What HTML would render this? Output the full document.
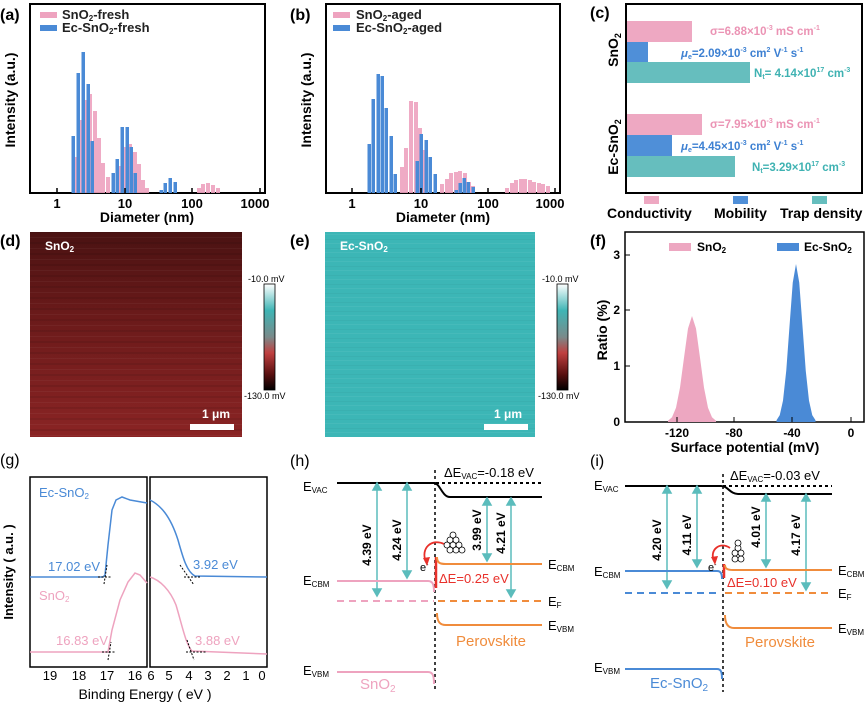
<!DOCTYPE html>
<html><head><meta charset="utf-8"><style>
html,body{margin:0;padding:0;background:#fff}
svg{display:block;font-family:"Liberation Sans",Arial,sans-serif}
.b{font-weight:bold}
</style></head><body>
<svg width="865" height="705" viewBox="0 0 865 705" xmlns="http://www.w3.org/2000/svg">
<defs>
<linearGradient id="cb" x1="0" y1="0" x2="0" y2="1">
<stop offset="0" stop-color="#ffffff"/><stop offset="0.25" stop-color="#3fb5b5"/><stop offset="0.5" stop-color="#7a8a8a"/><stop offset="0.65" stop-color="#c04040"/><stop offset="0.85" stop-color="#5a1010"/><stop offset="1" stop-color="#000"/>
</linearGradient>
<linearGradient id="dimg" x1="0" y1="0" x2="0" y2="1">
<stop offset="0" stop-color="#4a1212"/><stop offset="0.4" stop-color="#6a1a1a"/><stop offset="1" stop-color="#8a2424"/>
</linearGradient>
<pattern id="stripes" width="4" height="11" patternUnits="userSpaceOnUse">
<rect width="4" height="2" fill="#000" opacity="0.08"/><rect y="6" width="4" height="1" fill="#fff" opacity="0.04"/>
</pattern>
<pattern id="stripes2" width="5" height="9" patternUnits="userSpaceOnUse">
<rect width="5" height="1" fill="#fff" opacity="0.05"/><rect y="5" width="5" height="1" fill="#000" opacity="0.03"/>
</pattern>
</defs>

<!-- (a) -->
<text x="0" y="20" class="b" font-size="16">(a)</text>
<rect x="30" y="4" width="235" height="189" fill="none" stroke="#000" stroke-width="2"/>
<g fill="#eea3bf" opacity="0.9">
<rect x="74" y="157" width="4" height="36"/><rect x="79" y="120" width="4" height="73"/><rect x="84" y="100" width="4" height="93"/><rect x="88" y="94" width="4" height="99"/><rect x="93" y="111" width="4" height="82"/><rect x="97" y="138" width="4" height="55"/><rect x="101" y="163" width="4" height="30"/><rect x="106" y="177" width="4" height="16"/><rect x="117" y="166" width="4" height="27"/><rect x="124" y="147" width="4" height="46"/><rect x="128" y="144" width="4" height="49"/><rect x="133" y="152" width="4" height="41"/><rect x="137" y="164" width="4" height="29"/><rect x="141" y="180" width="4" height="13"/><rect x="145" y="188" width="4" height="5"/>
<rect x="197" y="188" width="4" height="5"/><rect x="201" y="184" width="4" height="9"/><rect x="206" y="183" width="4" height="10"/><rect x="211" y="185" width="4" height="8"/><rect x="216" y="188" width="4" height="5"/>
</g>
<g fill="#4a8ad6">
<rect x="71.5" y="136" width="3.5" height="57"/><rect x="76.5" y="73" width="3.5" height="120"/><rect x="81.5" y="52" width="3.5" height="141"/><rect x="86.5" y="84" width="3.5" height="109"/><rect x="90.5" y="141" width="3.5" height="52"/><rect x="111.5" y="173" width="3.5" height="20"/><rect x="115.5" y="159" width="3.5" height="34"/><rect x="120.5" y="127" width="3.5" height="66"/><rect x="125.5" y="127" width="3.5" height="66"/><rect x="129.5" y="147" width="3.5" height="46"/><rect x="133.5" y="173" width="3.5" height="20"/><rect x="159.5" y="190" width="3.5" height="3"/><rect x="163.5" y="183" width="3.5" height="10"/><rect x="168.5" y="178" width="3.5" height="15"/><rect x="173.5" y="182" width="3.5" height="11"/>
</g>
<g stroke="#000" stroke-width="1.5"><line x1="57" y1="193" x2="57" y2="188"/><line x1="125" y1="193" x2="125" y2="188"/><line x1="192" y1="193" x2="192" y2="188"/><line x1="260" y1="193" x2="260" y2="188"/></g>
<g font-size="13" class="b" text-anchor="middle"><text x="57" y="208">1</text><text x="125" y="208">10</text><text x="192" y="208">100</text><text x="255" y="208">1000</text></g>
<text x="147" y="222" font-size="14" class="b" text-anchor="middle">Diameter (nm)</text>
<text transform="translate(15,100) rotate(-90)" font-size="14" class="b" text-anchor="middle">Intensity (a.u.)</text>
<rect x="40" y="12" width="17" height="6" fill="#eea3bf"/><text x="62" y="19" font-size="13" class="b" fill="#222">SnO<tspan font-size="8" dy="2">2</tspan><tspan dy="-2">-fresh</tspan></text>
<rect x="40" y="25" width="17" height="6" fill="#4a8ad6"/><text x="62" y="32" font-size="13" class="b" fill="#222">Ec-SnO<tspan font-size="8" dy="2">2</tspan><tspan dy="-2">-fresh</tspan></text>

<!-- (b) -->
<text x="290" y="20" class="b" font-size="16">(b)</text>
<rect x="326" y="4" width="234" height="189" fill="none" stroke="#000" stroke-width="2"/>
<g fill="#eea3bf" opacity="0.9">
<rect x="400" y="167" width="4" height="26"/><rect x="404" y="148" width="4" height="45"/><rect x="409" y="101" width="4" height="92"/><rect x="414" y="102" width="4" height="91"/><rect x="418" y="128" width="4" height="65"/><rect x="423" y="150" width="4" height="43"/>
<rect x="440" y="184" width="4" height="9"/><rect x="445" y="179" width="4" height="14"/><rect x="449" y="173" width="4" height="20"/><rect x="454" y="172" width="4" height="21"/><rect x="458" y="171" width="4" height="22"/><rect x="463" y="173" width="4" height="20"/><rect x="467" y="182" width="4" height="11"/><rect x="471" y="186" width="4" height="7"/>
<rect x="505" y="188" width="4" height="5"/><rect x="510" y="183" width="4" height="10"/><rect x="514" y="180" width="4" height="13"/><rect x="519" y="179" width="4" height="14"/><rect x="523" y="179" width="4" height="14"/><rect x="528" y="180" width="4" height="13"/><rect x="532" y="182" width="4" height="11"/><rect x="537" y="183" width="4" height="10"/><rect x="541" y="184" width="4" height="9"/><rect x="546" y="186" width="4" height="7"/>
</g>
<g fill="#4a8ad6">
<rect x="367.5" y="144" width="3.5" height="49"/><rect x="371.5" y="99" width="3.5" height="94"/><rect x="376.5" y="74" width="3.5" height="119"/><rect x="380.5" y="76" width="3.5" height="117"/><rect x="384.5" y="108" width="3.5" height="85"/><rect x="389.5" y="136" width="3.5" height="57"/><rect x="393.5" y="174" width="3.5" height="19"/><rect x="415.5" y="161" width="3.5" height="32"/><rect x="419.5" y="134" width="3.5" height="59"/><rect x="424.5" y="140" width="3.5" height="53"/><rect x="428.5" y="157" width="3.5" height="36"/><rect x="433.5" y="174" width="3.5" height="19"/><rect x="454.5" y="190" width="3.5" height="3"/><rect x="458.5" y="183" width="3.5" height="10"/><rect x="462.5" y="178" width="3.5" height="15"/><rect x="466.5" y="182" width="3.5" height="11"/><rect x="471.5" y="187" width="3.5" height="6"/>
</g>
<g stroke="#000" stroke-width="1.5"><line x1="352" y1="193" x2="352" y2="188"/><line x1="421" y1="193" x2="421" y2="188"/><line x1="488" y1="193" x2="488" y2="188"/><line x1="555" y1="193" x2="555" y2="188"/></g>
<g font-size="13" class="b" text-anchor="middle"><text x="352" y="208">1</text><text x="421" y="208">10</text><text x="488" y="208">100</text><text x="550" y="208">1000</text></g>
<text x="443" y="222" font-size="14" class="b" text-anchor="middle">Diameter (nm)</text>
<text transform="translate(311,100) rotate(-90)" font-size="14" class="b" text-anchor="middle">Intensity (a.u.)</text>
<rect x="333" y="12" width="17" height="6" fill="#eea3bf"/><text x="356" y="19" font-size="13" class="b" fill="#222">SnO<tspan font-size="8" dy="2">2</tspan><tspan dy="-2">-aged</tspan></text>
<rect x="333" y="25" width="17" height="6" fill="#4a8ad6"/><text x="356" y="32" font-size="13" class="b" fill="#222">Ec-SnO<tspan font-size="8" dy="2">2</tspan><tspan dy="-2">-aged</tspan></text>

<!-- (c) -->
<text x="590" y="18" class="b" font-size="16">(c)</text>
<rect x="626" y="4" width="236" height="189" fill="none" stroke="#000" stroke-width="2"/>
<rect x="627" y="21" width="65" height="21" fill="#eea8c2"/>
<rect x="627" y="42" width="21" height="20" fill="#4f8fd8"/>
<rect x="627" y="62" width="123" height="21" fill="#66bebe"/>
<rect x="627" y="114" width="75" height="21" fill="#eea8c2"/>
<rect x="627" y="135" width="45" height="21" fill="#4f8fd8"/>
<rect x="627" y="156" width="108" height="21" fill="#66bebe"/>
<g font-size="11.5" class="b">
<text x="710" y="35" fill="#eb93b4">σ=6.88×10<tspan font-size="7" dy="-5">-3</tspan><tspan dy="5"> mS cm</tspan><tspan font-size="7" dy="-5">-1</tspan></text>
<text x="681" y="57" fill="#3d80d2"><tspan font-style="italic">μ</tspan><tspan font-size="7" dy="2">e</tspan><tspan dy="-2">=2.09×10</tspan><tspan font-size="7" dy="-5">-3</tspan><tspan dy="5"> cm</tspan><tspan font-size="7" dy="-5">2</tspan><tspan dy="5"> V</tspan><tspan font-size="7" dy="-5">-1</tspan><tspan dy="5"> s</tspan><tspan font-size="7" dy="-5">-1</tspan></text>
<text x="754" y="77" fill="#3fb2b2">N<tspan font-size="7" dy="2">t</tspan><tspan dy="-2">= 4.14×10</tspan><tspan font-size="7" dy="-5">17</tspan><tspan dy="5"> cm</tspan><tspan font-size="7" dy="-5">-3</tspan></text>
<text x="710" y="128" fill="#eb93b4">σ=7.95×10<tspan font-size="7" dy="-5">-3</tspan><tspan dy="5"> mS cm</tspan><tspan font-size="7" dy="-5">-1</tspan></text>
<text x="681" y="150" fill="#3d80d2"><tspan font-style="italic">μ</tspan><tspan font-size="7" dy="2">e</tspan><tspan dy="-2">=4.45×10</tspan><tspan font-size="7" dy="-5">-3</tspan><tspan dy="5"> cm</tspan><tspan font-size="7" dy="-5">2</tspan><tspan dy="5"> V</tspan><tspan font-size="7" dy="-5">-1</tspan><tspan dy="5"> s</tspan><tspan font-size="7" dy="-5">-1</tspan></text>
<text x="752" y="171" fill="#3fb2b2">N<tspan font-size="7" dy="2">t</tspan><tspan dy="-2">=3.29×10</tspan><tspan font-size="7" dy="-5">17</tspan><tspan dy="5"> cm</tspan><tspan font-size="7" dy="-5">-3</tspan></text>
</g>
<text transform="translate(618,50) rotate(-90)" font-size="14" class="b" text-anchor="middle">SnO<tspan font-size="9" dy="3">2</tspan></text>
<text transform="translate(618,147) rotate(-90)" font-size="14" class="b" text-anchor="middle">Ec-SnO<tspan font-size="9" dy="3">2</tspan></text>
<rect x="644" y="196" width="15" height="8" fill="#eea8c2"/><rect x="733" y="196" width="15" height="8" fill="#4f8fd8"/><rect x="812" y="196" width="15" height="8" fill="#66bebe"/>
<g font-size="14" class="b"><text x="607" y="218">Conductivity</text><text x="714" y="218">Mobility</text><text x="780" y="218">Trap density</text></g>

<!-- (d) -->
<text x="0" y="246" class="b" font-size="16">(d)</text>
<rect x="30" y="232" width="212" height="205" fill="url(#dimg)"/>
<rect x="30" y="232" width="212" height="205" fill="url(#stripes)"/>
<text x="45" y="250" font-size="12" class="b" fill="#fff">SnO<tspan font-size="8" dy="2">2</tspan></text>
<text x="230" y="418" font-size="12" class="b" fill="#fff" text-anchor="end">1 μm</text>
<rect x="190" y="424" width="44" height="6" fill="#fff"/>
<rect x="264" y="284" width="11" height="106" fill="url(#cb)" stroke="#000" stroke-width="0.8"/>
<text x="248" y="282" font-size="9">-10.0 mV</text><text x="244" y="399" font-size="9">-130.0 mV</text>

<!-- (e) -->
<text x="290" y="246" class="b" font-size="16">(e)</text>
<rect x="325" y="232" width="210" height="205" fill="#3cb6b6"/>
<rect x="325" y="232" width="210" height="205" fill="url(#stripes2)"/>
<text x="340" y="250" font-size="12" class="b" fill="#fff">Ec-SnO<tspan font-size="8" dy="2">2</tspan></text>
<text x="522" y="418" font-size="12" class="b" fill="#fff" text-anchor="end">1 μm</text>
<rect x="484" y="424" width="44" height="6" fill="#fff"/>
<rect x="557" y="284" width="11" height="106" fill="url(#cb)" stroke="#000" stroke-width="0.8"/>
<text x="542" y="282" font-size="9">-10.0 mV</text><text x="538" y="399" font-size="9">-130.0 mV</text>

<!-- (f) -->
<text x="590" y="246" class="b" font-size="16">(f)</text>
<rect x="625" y="232" width="239" height="190" fill="none" stroke="#000" stroke-width="1.5"/>
<path d="M668,422 L668,420.8 L672,417.3 L676,407.7 L680,387.6 L684,357.7 L688,328.5 L692,316 L696,328.5 L700,357.7 L704,387.6 L708,407.7 L712,417.3 L716,420.8 L716,422Z" fill="#eda7c1"/>
<path d="M776.5,422 L776.5,420.2 L779.75,415.1 L783,400.6 L786.25,370.7 L789.5,326.2 L792.75,282.6 L796,264 L799.25,282.6 L802.5,326.2 L805.75,370.7 L809,400.6 L812.25,415.1 L815.5,420.2 L815.5,422Z" fill="#4a8ad6"/>
<g stroke="#000" stroke-width="1"><line x1="625" y1="255" x2="630" y2="255"/><line x1="625" y1="310" x2="630" y2="310"/><line x1="625" y1="366" x2="630" y2="366"/><line x1="677" y1="422" x2="677" y2="417"/><line x1="734" y1="422" x2="734" y2="417"/><line x1="792" y1="422" x2="792" y2="417"/><line x1="851" y1="422" x2="851" y2="417"/></g>
<g font-size="12" class="b" text-anchor="end"><text x="620" y="259">3</text><text x="620" y="314">2</text><text x="620" y="370">1</text><text x="620" y="426">0</text></g>
<g font-size="12" class="b" text-anchor="middle"><text x="677" y="437">-120</text><text x="734" y="437">-80</text><text x="792" y="437">-40</text><text x="851" y="437">0</text></g>
<text x="745" y="452" font-size="14" class="b" text-anchor="middle">Surface potential (mV)</text>
<text transform="translate(607,330) rotate(-90)" font-size="14" class="b" text-anchor="middle">Ratio (%)</text>
<rect x="669" y="243" width="22" height="8" fill="#eda7c1"/><text x="697" y="251" font-size="12" class="b">SnO<tspan font-size="8" dy="2">2</tspan></text>
<rect x="777" y="243" width="22" height="8" fill="#4a8ad6"/><text x="804" y="251" font-size="12" class="b">Ec-SnO<tspan font-size="8" dy="2">2</tspan></text>

<!-- (g) -->
<text x="0" y="465" font-size="16">(g)</text>
<rect x="30" y="477" width="117" height="190" fill="none" stroke="#000" stroke-width="1.5"/>
<rect x="150" y="477" width="117" height="190" fill="none" stroke="#000" stroke-width="1.5"/>
<path d="M30,577 L103,577 L105,575 L108,545 L112,510 L116,500 L122,497 L130,500 L147,503" fill="none" stroke="#4a8ad6" stroke-width="1.5"/>
<path d="M150,500 C160,505 170,515 178,540 C183,558 187,572 195,576 L267,577" fill="none" stroke="#4a8ad6" stroke-width="1.5"/>
<path d="M30,652 L108,652 L112,630 L120,600 L128,582 L135,573 L140,575 L147,583" fill="none" stroke="#eea3bf" stroke-width="1.5"/>
<path d="M150,577 C160,580 170,590 176,605 C182,625 186,645 192,651 L267,654" fill="none" stroke="#eea3bf" stroke-width="1.5"/>
<g stroke="#000" stroke-width="1" stroke-dasharray="2,1.5" fill="none">
<line x1="98" y1="577" x2="112" y2="577"/><line x1="104" y1="584" x2="107" y2="565"/>
<line x1="184" y1="577" x2="200" y2="577"/><line x1="180" y1="565" x2="194" y2="585"/>
<line x1="102" y1="652" x2="116" y2="652"/><line x1="108" y1="660" x2="111" y2="642"/>
<line x1="186" y1="652" x2="206" y2="652"/><line x1="187" y1="640" x2="194" y2="660"/>
</g>
<g font-size="13">
<text x="39" y="497" fill="#4a8ad6">Ec-SnO<tspan font-size="8" dy="2">2</tspan></text>
<text x="48" y="571" fill="#4a8ad6">17.02 eV</text>
<text x="193" y="569" fill="#4a8ad6">3.92 eV</text>
<text x="39" y="600" fill="#eea3bf">SnO<tspan font-size="8" dy="2">2</tspan></text>
<text x="56" y="645" fill="#eea3bf">16.83 eV</text>
<text x="195" y="645" fill="#eea3bf">3.88 eV</text>
</g>
<g font-size="13" text-anchor="middle"><text x="50" y="680">19</text><text x="79" y="680">18</text><text x="107" y="680">17</text><text x="135" y="680">16</text><text x="151" y="680">6</text><text x="169" y="680">5</text><text x="189" y="680">4</text><text x="208" y="680">3</text><text x="227" y="680">2</text><text x="246" y="680">1</text><text x="262" y="680">0</text></g>
<text x="145" y="699" font-size="14" text-anchor="middle">Binding Energy ( eV )</text>
<text transform="translate(13,572) rotate(-90)" font-size="13" class="b" text-anchor="middle">Intensity ( a.u. )</text>

<!-- (h) -->
<text x="290" y="466" font-size="16">(h)</text>
<text x="303" y="491" font-size="13">E<tspan font-size="8" dy="2">VAC</tspan></text>
<path d="M337,483 L434,483 C440,483 442,497 450,497 L542,497" fill="none" stroke="#000" stroke-width="2"/>
<line x1="436" y1="483" x2="542" y2="483" stroke="#000" stroke-width="2" stroke-dasharray="3,3"/>
<text x="444" y="477" font-size="13">ΔE<tspan font-size="8" dy="2">VAC</tspan><tspan dy="-2">=-0.18 eV</tspan></text>
<line x1="435" y1="470" x2="435" y2="690" stroke="#000" stroke-width="1.5" stroke-dasharray="3,3"/>
<g stroke="#5bbcbc" stroke-width="1.5" fill="#5bbcbc">
<line x1="377" y1="488" x2="377" y2="591"/><path d="M373,490 L377,483 L381,490Z"/><path d="M373,589 L377,596 L381,589Z"/>
<line x1="407" y1="488" x2="407" y2="573"/><path d="M403,490 L407,483 L411,490Z"/><path d="M403,571 L407,578 L411,571Z"/>
<line x1="487" y1="503" x2="487" y2="556"/><path d="M483,505 L487,498 L491,505Z"/><path d="M483,554 L487,561 L491,554Z"/>
<line x1="511" y1="503" x2="511" y2="592"/><path d="M507,505 L511,498 L515,505Z"/><path d="M507,590 L511,597 L515,590Z"/>
</g>
<g font-size="12" class="b">
<text transform="translate(371,545) rotate(-90)" text-anchor="middle">4.39 eV</text>
<text transform="translate(401,540) rotate(-90)" text-anchor="middle">4.24 eV</text>
<text transform="translate(481,530) rotate(-90)" text-anchor="middle">3.99 eV</text>
<text transform="translate(505,533) rotate(-90)" text-anchor="middle">4.21 eV</text>
</g>
<text x="303" y="585" font-size="13">E<tspan font-size="8" dy="2">CBM</tspan></text>
<path d="M337,581 L428,581 C433,581 434,585 434,592" fill="none" stroke="#eea3bf" stroke-width="2"/>
<line x1="337" y1="601" x2="434" y2="601" stroke="#eea3bf" stroke-width="2" stroke-dasharray="7,5"/>
<line x1="438" y1="601" x2="542" y2="601" stroke="#f08c3c" stroke-width="2" stroke-dasharray="7,5"/>
<text x="548" y="606" font-size="13">E<tspan font-size="8" dy="2">F</tspan></text>
<line x1="436" y1="557" x2="436" y2="588" stroke="#e8302a" stroke-width="2.5"/>
<path d="M437,557 C437,563 440,564 446,564 L542,564" fill="none" stroke="#f08c3c" stroke-width="2"/>
<text x="548" y="569" font-size="13">E<tspan font-size="8" dy="2">CBM</tspan></text>
<text x="439" y="583" font-size="13" fill="#e8302a">ΔE=0.25 eV</text>
<text x="420" y="571" font-size="11">e<tspan font-size="7" dy="-4">-</tspan></text>
<path d="M426,562 C420,548 432,538 444,544" fill="none" stroke="#e8302a" stroke-width="1.8"/>
<path d="M423,558 L427,566 L430,557Z" fill="#e8302a"/>
<g fill="#fff" stroke="#000" stroke-width="0.8">
<circle cx="447" cy="545" r="3"/><circle cx="453" cy="545" r="3"/><circle cx="459" cy="545" r="3"/><circle cx="450" cy="540" r="3"/><circle cx="456" cy="540" r="3"/><circle cx="450" cy="550" r="3"/><circle cx="456" cy="550" r="3"/><circle cx="462" cy="550" r="3"/><circle cx="453" cy="535" r="3"/>
</g>
<path d="M437,613 C437,622 440,625 446,625 L542,625" fill="none" stroke="#f08c3c" stroke-width="2"/>
<text x="548" y="630" font-size="13">E<tspan font-size="8" dy="2">VBM</tspan></text>
<text x="456" y="646" font-size="15" fill="#f08c3c">Perovskite</text>
<text x="303" y="675" font-size="13">E<tspan font-size="8" dy="2">VBM</tspan></text>
<path d="M337,672 L428,672 C433,672 434,676 434,684" fill="none" stroke="#eea3bf" stroke-width="2"/>
<text x="360" y="689" font-size="15" fill="#eea3bf">SnO<tspan font-size="10" dy="3">2</tspan></text>

<!-- (i) -->
<text x="590" y="466" font-size="16">(i)</text>
<text x="594" y="490" font-size="13">E<tspan font-size="8" dy="2">VAC</tspan></text>
<path d="M625,486 L721,486 C728,486 730,494 738,494 L832,494" fill="none" stroke="#000" stroke-width="2"/>
<line x1="723" y1="486" x2="832" y2="486" stroke="#000" stroke-width="2" stroke-dasharray="3,3"/>
<text x="730" y="480" font-size="13">ΔE<tspan font-size="8" dy="2">VAC</tspan><tspan dy="-2">=-0.03 eV</tspan></text>
<line x1="723" y1="474" x2="723" y2="692" stroke="#000" stroke-width="1.5" stroke-dasharray="3,3"/>
<g stroke="#5bbcbc" stroke-width="1.5" fill="#5bbcbc">
<line x1="667" y1="491" x2="667" y2="583"/><path d="M663,493 L667,486 L671,493Z"/><path d="M663,581 L667,588 L671,581Z"/>
<line x1="697" y1="491" x2="697" y2="562"/><path d="M693,493 L697,486 L701,493Z"/><path d="M693,560 L697,567 L701,560Z"/>
<line x1="766" y1="499" x2="766" y2="562"/><path d="M762,501 L766,494 L770,501Z"/><path d="M762,560 L766,567 L770,560Z"/>
<line x1="806" y1="499" x2="806" y2="585"/><path d="M802,501 L806,494 L810,501Z"/><path d="M802,583 L806,590 L810,583Z"/>
</g>
<g font-size="12" class="b">
<text transform="translate(661,540) rotate(-90)" text-anchor="middle">4.20 eV</text>
<text transform="translate(691,535) rotate(-90)" text-anchor="middle">4.11 eV</text>
<text transform="translate(760,527) rotate(-90)" text-anchor="middle">4.01 eV</text>
<text transform="translate(800,535) rotate(-90)" text-anchor="middle">4.17 eV</text>
</g>
<text x="594" y="576" font-size="13">E<tspan font-size="8" dy="2">CBM</tspan></text>
<path d="M625,571 L717,571 C721,571 722,574 722,579" fill="none" stroke="#4a8ad6" stroke-width="2"/>
<line x1="625" y1="593" x2="721" y2="593" stroke="#4a8ad6" stroke-width="2" stroke-dasharray="7,5"/>
<line x1="725" y1="593" x2="832" y2="593" stroke="#f08c3c" stroke-width="2" stroke-dasharray="7,5"/>
<text x="838" y="598" font-size="13">E<tspan font-size="8" dy="2">F</tspan></text>
<line x1="724" y1="564" x2="724" y2="578" stroke="#e8302a" stroke-width="2.5"/>
<path d="M725,565 C725,569 728,570 733,570 L832,570" fill="none" stroke="#f08c3c" stroke-width="2"/>
<text x="838" y="575" font-size="13">E<tspan font-size="8" dy="2">CBM</tspan></text>
<text x="727" y="587" font-size="13" fill="#e8302a">ΔE=0.10 eV</text>
<text x="708" y="571" font-size="11">e<tspan font-size="7" dy="-4">-</tspan></text>
<path d="M714,561 C709,550 720,541 730,548" fill="none" stroke="#e8302a" stroke-width="1.8"/>
<path d="M711,557 L715,565 L718,556Z" fill="#e8302a"/>
<g fill="#fff" stroke="#000" stroke-width="0.8">
<circle cx="735" cy="553" r="3"/><circle cx="741" cy="553" r="3"/><circle cx="738" cy="548" r="3"/><circle cx="735" cy="559" r="3"/><circle cx="741" cy="559" r="3"/><circle cx="738" cy="543" r="3"/>
</g>
<path d="M725,615 C725,624 728,628 734,628 L832,628" fill="none" stroke="#f08c3c" stroke-width="2"/>
<text x="838" y="633" font-size="13">E<tspan font-size="8" dy="2">VBM</tspan></text>
<text x="745" y="647" font-size="15" fill="#f08c3c">Perovskite</text>
<text x="594" y="672" font-size="13">E<tspan font-size="8" dy="2">VBM</tspan></text>
<path d="M625,669 L717,669 C721,669 722,672 722,679" fill="none" stroke="#4a8ad6" stroke-width="2"/>
<text x="650" y="688" font-size="15" fill="#4a8ad6">Ec-SnO<tspan font-size="10" dy="3">2</tspan></text>
</svg>
</body></html>
